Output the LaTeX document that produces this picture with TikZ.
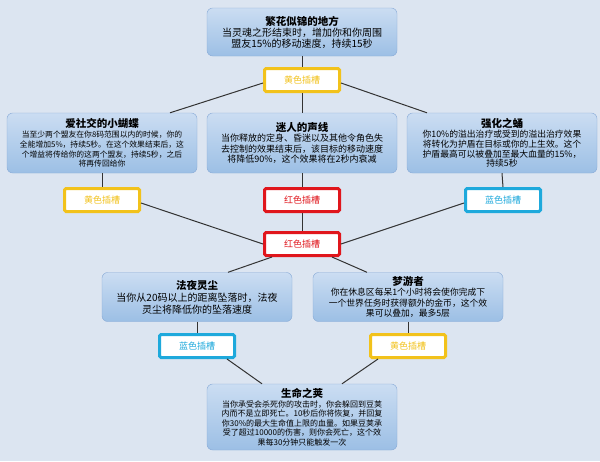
\documentclass[tikz,border=0pt]{standalone}
\usepackage{fontspec}
\setmainfont{Noto Sans CJK SC}
\usetikzlibrary{positioning}
\definecolor{bgcol}{HTML}{DCE5F1}
\definecolor{boxtop}{HTML}{CBDDF2}
\definecolor{boxbot}{HTML}{9CBFE5}
\definecolor{boxline}{HTML}{86A9D6}
\definecolor{slotyellow}{HTML}{F2C21B}
\definecolor{slotred}{HTML}{E0161C}
\definecolor{slotblue}{HTML}{1EA9DC}
\tikzset{
  talent/.style={draw=boxline,rounded corners=2mm,top color=boxtop,bottom color=boxbot,
    minimum width=190pt,inner sep=1pt,align=center,font=\fontsize{9}{10.5}\selectfont},
  slot/.style={draw=#1,line width=3pt,fill=white,rounded corners=1.5pt,text=#1,
    minimum width=75pt,minimum height=23pt,font=\fontsize{9}{10}\selectfont},
  link/.style={line width=1pt,black!80}
}
\newcommand{\ttl}[1]{{\bfseries\fontsize{10.5}{12.5}\selectfont #1}}
\begin{document}
\begin{tikzpicture}[x=1pt,y=-1pt]
\fill[bgcol] (0,0) rectangle (600,461);
\useasboundingbox (0,0) rectangle (600,461);
% talents
\node[talent,minimum height=48pt,font=\fontsize{10}{11}\selectfont] (flower) at (302,32) {\ttl{繁花似锦的地方}\\当灵魂之形结束时，增加你和你周围\\盟友15\%的移动速度，持续15秒};
\node[talent,minimum height=60pt,font=\fontsize{7.8}{9.8}\selectfont] (social) at (102,143) {\ttl{爱社交的小蝴蝶}\\当至少两个盟友在你8码范围以内的时候，你的\\全能增加5\%，持续5秒。在这个效果结束后，这\\个增益将传给你的这两个盟友，持续5秒，之后\\将再传回给你};
\node[talent,minimum height=60pt] (voice) at (302,143) {\ttl{迷人的声线}\\当你释放的定身、昏迷以及其他令角色失\\去控制的效果结束后，该目标的移动速度\\将降低90\%，这个效果将在2秒内衰减};
\node[talent,minimum height=60pt,font=\fontsize{8.8}{9.8}\selectfont] (ward) at (502,143) {\ttl{强化之蛹}\\你10\%的溢出治疗或受到的溢出治疗效果\\将转化为护盾在目标或你的上生效。这个\\护盾最高可以被叠加至最大血量的15\%，\\持续5秒};
\node[talent,minimum height=49pt,font=\fontsize{10}{12}\selectfont] (dust) at (197,297) {\ttl{法夜灵尘}\\当你从20码以上的距离坠落时，法夜\\灵尘将降低你的坠落速度};
\node[talent,minimum height=49pt,font=\fontsize{8.8}{10.5}\selectfont] (dream) at (408,297) {\ttl{梦游者}\\你在休息区每呆1个小时将会使你完成下\\一个世界任务时获得额外的金币，这个效\\果可以叠加，最多5层};
\node[talent,minimum height=66pt,font=\fontsize{8}{9.5}\selectfont] (pod) at (302,417) {\ttl{生命之荚}\\当你承受会杀死你的攻击时，你会躲回到豆荚\\内而不是立即死亡。10秒后你将恢复，并回复\\你30\%的最大生命值上限的血量。如果豆荚承\\受了超过10000的伤害，则你会死亡，这个效\\果每30分钟只能触发一次};
% slots
\node[slot=slotyellow] (y1) at (302,80) {黄色插槽};
\node[slot=slotyellow] (y2) at (102,200) {黄色插槽};
\node[slot=slotred] (r1) at (302,200) {红色插槽};
\node[slot=slotblue] (b1) at (503,200) {蓝色插槽};
\node[slot=slotred] (r2) at (302,244) {红色插槽};
\node[slot=slotblue] (b2) at (197,346) {蓝色插槽};
\node[slot=slotyellow] (y3) at (408,346) {黄色插槽};
% links
\draw[link] (flower.south) -- (y1.north);
\draw[link] (y1.south) -- (voice.north);
\draw[link] (voice.south) -- (r1.north);
\draw[link] (r1.south) -- (r2.north);
\draw[link] (social.south) -- (y2.north);
\draw[link] (ward.south) -- (b1.north);
\draw[link] (dust.south) -- (b2.north);
\draw[link] (dream.south) -- (y3.north);
\draw[link] ([yshift=-3pt]y1.west) -- ([xshift=68pt]social.north);
\draw[link] ([yshift=-3pt]y1.east) -- ([xshift=-75pt]ward.north);
\draw[link] ([yshift=-3pt]y2.east) -- (r2.west);
\draw[link] ([yshift=-3pt]b1.west) -- (r2.east);
\draw[link] ([xshift=-30pt]r2.south) -- ([xshift=31pt]dust.north);
\draw[link] ([xshift=30pt]r2.south) -- ([xshift=-41pt]dream.north);
\draw[link] ([xshift=30pt]b2.south) -- ([xshift=-40pt]pod.north);
\draw[link] ([xshift=-30pt]y3.south) -- ([xshift=40pt]pod.north);
\end{tikzpicture}
\end{document}
